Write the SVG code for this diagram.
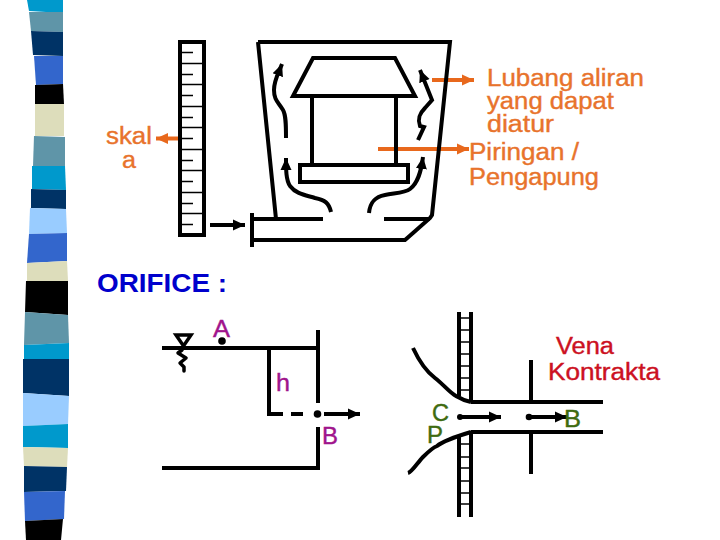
<svg xmlns="http://www.w3.org/2000/svg" width="720" height="540" viewBox="0 0 720 540">
<style>
text{font-family:"Liberation Sans",Arial,sans-serif;font-size:23.5px;stroke-width:.4}
.l{fill:none;stroke:#000;stroke-width:4;stroke-linejoin:miter}
.t{fill:none;stroke:#000;stroke-width:1.3}
.w{fill:none;stroke:#000;stroke-width:3.500;stroke-linejoin:round;stroke-linecap:round}
.a{fill:none;stroke:#000;stroke-width:4;marker-end:url(#k)}
.o{fill:none;stroke:#e8681c;stroke-width:4;marker-end:url(#r)}
.or{fill:#e8732c;stroke:#e8732c}.pu{fill:#a0148c;stroke:#a0148c}.gr{fill:#3f6b10;stroke:#3f6b10}.rd{fill:#cc1122;stroke:#cc1122}
</style>
<defs>
<marker id="k" markerUnits="userSpaceOnUse" markerWidth="13" markerHeight="12" refX="12" refY="6" orient="auto"><path d="M0 0.500L12 6L0 11.500z" fill="#000"/></marker>
<marker id="r" markerUnits="userSpaceOnUse" markerWidth="13" markerHeight="12" refX="12" refY="6" orient="auto"><path d="M0 0.500L12 6L0 11.500z" fill="#e8681c"/></marker>
</defs>
<g id="strip">
<polygon points="27,0 63,0 63,13 29,11" fill="#0099cc"/>
<polygon points="29,12 63,12 63,32 31,31" fill="#5f95a8"/>
<polygon points="31,31 63,32 63,56 33,55" fill="#003366"/>
<polygon points="34,56 63,56 63,84 36,85" fill="#3366cc"/>
<polygon points="35,85 63,84 64,104 35,104" fill="#000"/>
<polygon points="35,104 64,104 64,136 35,136" fill="#ddddbb"/>
<polygon points="34,136 65,137 65,166 33,166" fill="#5f95a8"/>
<polygon points="32,166 65,166 66,190 32,189" fill="#0099cc"/>
<polygon points="31,189 66,190 66,209 31,208" fill="#003366"/>
<polygon points="30,208 66,209 67,233 29,234" fill="#99ccff"/>
<polygon points="29,234 67,233 67,261 27,263" fill="#3366cc"/>
<polygon points="27,263 67,261 68,281 27,281" fill="#ddddbb"/>
<polygon points="26,281 68,281 68,315 25,312" fill="#000"/>
<polygon points="25,312 68,315 69,343 24,345" fill="#5f95a8"/>
<polygon points="24,345 69,343 69,359 24,359" fill="#0099cc"/>
<polygon points="23,359 69,359 69,396 23,393" fill="#003366"/>
<polygon points="23,393 69,396 68,424 23,426" fill="#99ccff"/>
<polygon points="23,426 68,424 68,448 23,447" fill="#0099cc"/>
<polygon points="23,447 68,448 67,467 24,466" fill="#ddddbb"/>
<polygon points="24,466 67,467 66,491 24,492" fill="#003366"/>
<polygon points="24,492 65,491 64,519 25,521" fill="#3366cc"/>
<polygon points="25,521 63,519 61,540 26,540" fill="#000"/>
</g>
<g id="connectors">
<path class="o" d="M180 138.500H156"/>
<path class="a" d="M210 225H245"/>
<path class="o" d="M432 80H474"/>
<path class="o" d="M378 149H469"/>
<path class="a" d="M286 138C286 125 286 115 283 110C278 102 274 100 274 90C274 80 279 72 282 64"/>
<path class="a" d="M418 140L424 127L420 126C417 118 420 113 425 108L432 100L420 70"/>
<path class="a" d="M331 212C329 203 325 200 315 198C305 195 296 194 290 186C286 180 286 170 286 158"/>
<path class="a" d="M369 213C370 203 374 197 385 195C395 193 405 193 410 189C418 183 421 172 423 157"/>
<path class="a" d="M324 414H360"/>
<path class="a" d="M460 417H501"/>
<path class="a" d="M528 417H567"/>
</g>
<g id="ruler">
<rect x="180" y="42" width="24" height="193" class="l"/>
<path class="t" d="M182 52.500H193M182 74.500H193M182 95.500H193M182 117.500H193M182 138.500H193M182 160.500H193M182 181.500H193M182 203.500H193M182 224.500H193M182 63.500H202M182 84.500H202M182 106.500H202M182 127.500H202M182 149.500H202M182 170.500H202M182 192.500H202M182 213.500H202"/>
</g>
<g id="tank">
<path class="l" d="M258 42H450L432 215L430 218L413 233L405 240H252M258 42L276 219M252 213V247M252 219H323M384 219H430"/>
<path class="l" d="M313 58H395L415 96H293Z"/>
<path class="l" d="M312 96V165M396 96V165"/>
<rect x="300" y="165" width="108" height="17" class="l"/>
</g>
<g id="orifice-left">
<path class="l" d="M162 348H318M318 330V403M318 427V468H162M269 348V414H283M291 414H303"/>
<path class="l" d="M176 335H191L183.500 346Z" style="stroke-width:3.500"/>
<path class="w" d="M182 350L178 353L186 358L180 363L184 367V371"/>
<circle cx="222" cy="341" r="3.800"/>
<circle cx="317.500" cy="414" r="3.800"/>
</g>
<g id="orifice-right">
<path class="l" d="M459 312V396M459 436V517M471 312V402M471 431V517M471 402H603M471 432H603M531 360V402M531 432V474"/>
<path class="t" d="M459 318H471M459 330H471M459 342H471M459 354H471M459 366H471M459 378H471M459 390H471M459 444H471M459 457H471M459 468H471M459 481H471M459 493H471M459 504H471" style="stroke-width:1.500"/>
<path class="l" d="M413 348C420 363 427 372 435 378C443 384 450 393 456 396C461 399 466 401 471 402"/>
<path class="l" d="M408 473C412 472 418 462 423 457C428 452 432 448 437 446C443 441 461 435 471 432"/>
<circle cx="460" cy="417" r="3"/>
<circle cx="529" cy="417" r="3.300"/>
</g>
<g id="labels">
<text class="or" x="106" y="144" textLength="46" lengthAdjust="spacingAndGlyphs">skal</text>
<text class="or" x="122" y="168" textLength="14" lengthAdjust="spacingAndGlyphs">a</text>
<text class="or" x="487" y="86" textLength="157" lengthAdjust="spacingAndGlyphs">Lubang aliran</text>
<text class="or" x="487" y="109" textLength="127" lengthAdjust="spacingAndGlyphs">yang dapat</text>
<text class="or" x="487" y="132" textLength="67" lengthAdjust="spacingAndGlyphs">diatur</text>
<text class="or" x="469" y="160" textLength="110" lengthAdjust="spacingAndGlyphs">Piringan /</text>
<text class="or" x="469" y="185" textLength="130" lengthAdjust="spacingAndGlyphs">Pengapung</text>
<text x="97" y="292" fill="#0000cc" font-weight="700" style="font-size:26.500px" textLength="130" lengthAdjust="spacingAndGlyphs">ORIFICE :</text>
<text class="pu" x="213" y="337" textLength="17" lengthAdjust="spacingAndGlyphs">A</text>
<text class="pu" x="276" y="391" textLength="14" lengthAdjust="spacingAndGlyphs">h</text>
<text class="pu" x="322" y="444" textLength="16" lengthAdjust="spacingAndGlyphs">B</text>
<text class="rd" x="556" y="354" textLength="58" lengthAdjust="spacingAndGlyphs">Vena</text>
<text class="rd" x="548" y="380" textLength="112" lengthAdjust="spacingAndGlyphs">Kontrakta</text>
<text class="gr" x="432" y="421" textLength="17" lengthAdjust="spacingAndGlyphs">C</text>
<text class="gr" x="427" y="443" textLength="16" lengthAdjust="spacingAndGlyphs">P</text>
<text class="gr" x="564" y="427" textLength="17" lengthAdjust="spacingAndGlyphs">B</text>
</g>
</svg>
